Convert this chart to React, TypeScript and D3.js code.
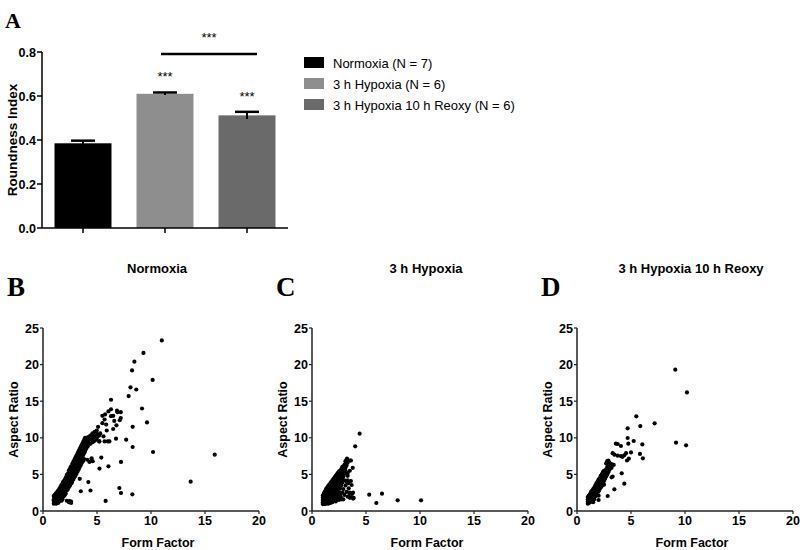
import React from "react";
import * as d3 from "d3";

// ---------- Panel A data ----------
const categories = ["Normoxia (N = 7)", "3 h Hypoxia (N = 6)", "3 h Hypoxia 10 h Reoxy (N = 6)"];
const roundnessMeans = [0.385, 0.61, 0.512];
const roundnessSEM = [0.012, 0.006, 0.016];
const barColors = ["#000000", "#8e8e8e", "#6a6a6a"];
const yTicksA = [0, 0.2, 0.4, 0.6, 0.8];

// ---------- Scatter data ----------
const scatterTicksX = [0, 5, 10, 15, 20];
const scatterTicksY = [0, 5, 10, 15, 20, 25];
const panelTitles = ["Normoxia", "3 h Hypoxia", "3 h Hypoxia 10 h Reoxy"];
const panelLetters = ["B", "C", "D"];

// Normoxia: [Form Factor, Aspect Ratio]
const normoxiaPoints: [number, number][] = [
  [11.0, 23.3], [9.3, 21.6], [8.46, 20.4], [8.25, 19.2], [10.15, 17.9], [8.1, 16.9], [8.64, 16.6], [7.93, 15.7],
  [6.3, 15.2], [9.17, 14.0], [9.63, 12.1], [8.3, 11.5], [10.19, 8.06], [8.3, 8.74], [15.9, 7.7], [13.67, 4.0],
  [8.27, 2.28], [7.22, 2.46], [7.07, 3.14], [5.8, 1.37], [7.22, 6.7], [7.7, 9.75], [6.76, 9.88],
  [6.06, 13.6], [6.9, 13.5], [7.2, 13.5], [5.5, 13.0], [6.3, 12.95], [7.2, 12.7], [7.1, 12.4], [5.7, 12.5],
  [6.6, 12.3], [6.8, 11.7], [5.85, 11.8], [5.1, 11.5], [5.5, 12.0], [4.6, 10.45], [4.8, 10.1], [4.9, 9.8],
  [5.2, 9.5], [5.7, 9.5], [6.0, 9.5], [6.15, 9.5], [5.4, 7.3], [4.6, 6.8], [4.3, 6.7], [6.06, 6.1],
  [5.23, 5.8], [3.4, 4.4], [4.2, 3.95], [3.5, 2.7], [4.4, 2.8], [2.46, 1.36], [2.6, 1.1], [5.9, 11.0],
  [6.5, 11.2], [5.3, 10.6], [5.6, 10.2], [6.3, 13.9], [6.85, 13.7], [5.75, 13.2], [6.5, 13.0], [4.5, 7.2],
  [1.0, 1.0], [1.02, 1.25], [0.98, 1.5], [1.05, 1.8], [1.0, 2.05],
  [1.12, 1.1], [1.1, 1.45], [1.14, 1.7], [1.08, 2.2],
  [1.22, 1.0], [1.2, 1.35], [1.25, 1.6], [1.18, 1.95], [1.2, 2.4],
  [1.3, 1.2], [1.33, 1.5], [1.28, 2.0], [1.32, 2.6],
  [1.4, 1.1], [1.42, 1.4], [1.38, 1.85], [1.45, 2.2], [1.4, 2.8],
  [1.52, 1.3], [1.5, 1.75], [1.55, 2.1], [1.48, 2.55], [1.5, 3.0],
  [1.6, 1.5], [1.63, 2.0], [1.58, 2.45], [1.65, 2.8], [1.6, 3.25],
  [1.72, 1.4], [1.7, 1.95], [1.75, 2.3], [1.68, 2.7], [1.73, 3.1], [1.7, 3.55],
  [1.8, 1.6], [1.83, 2.25], [1.78, 2.6], [1.85, 3.0], [1.8, 3.45], [1.82, 3.8],
  [1.92, 2.0], [1.9, 2.55], [1.95, 2.9], [1.88, 3.3], [1.93, 3.75], [1.9, 4.05],
  [2.0, 2.15], [2.04, 2.7], [1.98, 3.15], [2.05, 3.5], [2.0, 3.95], [2.03, 4.3],
  [2.1, 2.4], [2.13, 3.05], [2.08, 3.4], [2.15, 3.85], [2.1, 4.2], [2.12, 4.6],
  [2.2, 1.4], [2.22, 2.85], [2.18, 3.3], [2.25, 3.7], [2.2, 4.15], [2.23, 4.5], [2.2, 4.95],
  [2.3, 3.0], [2.33, 3.65], [2.28, 4.0], [2.35, 4.45], [2.3, 4.8], [2.32, 5.15],
  [2.4, 1.2], [2.43, 3.3], [2.38, 3.85], [2.45, 4.3], [2.4, 4.75], [2.42, 5.2], [2.4, 5.55],
  [2.5, 3.5], [2.53, 4.15], [2.48, 4.6], [2.55, 5.05], [2.5, 5.4], [2.52, 5.85],
  [2.6, 1.3], [2.63, 3.8], [2.58, 4.4], [2.65, 4.95], [2.6, 5.3], [2.62, 5.75], [2.6, 6.1],
  [2.7, 4.0], [2.73, 4.75], [2.68, 5.2], [2.75, 5.65], [2.7, 6.0], [2.72, 6.45],
  [2.8, 4.3], [2.83, 5.05], [2.78, 5.5], [2.85, 5.95], [2.8, 6.3], [2.82, 6.75],
  [2.9, 4.6], [2.93, 5.35], [2.88, 5.8], [2.95, 6.25], [2.9, 6.6], [2.92, 7.05],
  [3.0, 4.8], [3.03, 5.55], [2.98, 6.0], [3.05, 6.55], [3.0, 6.9], [3.02, 7.35],
  [3.1, 5.1], [3.13, 5.85], [3.08, 6.3], [3.15, 6.85], [3.1, 7.2], [3.12, 7.65],
  [3.2, 5.4], [3.23, 6.15], [3.18, 6.6], [3.25, 7.05], [3.2, 7.5], [3.22, 7.95],
  [3.3, 5.7], [3.33, 6.45], [3.28, 6.9], [3.35, 7.35], [3.3, 7.8], [3.32, 8.25],
  [3.4, 6.0], [3.43, 6.75], [3.38, 7.2], [3.45, 7.65], [3.4, 8.1], [3.42, 8.55],
  [3.5, 6.3], [3.53, 7.05], [3.48, 7.5], [3.55, 8.05], [3.5, 8.4], [3.52, 8.85],
  [3.6, 6.6], [3.63, 7.35], [3.58, 7.8], [3.65, 8.35], [3.6, 8.7], [3.62, 9.15],
  [3.7, 6.8], [3.73, 7.65], [3.68, 8.1], [3.75, 8.65], [3.7, 9.0], [3.72, 9.45],
  [3.8, 7.1], [3.83, 7.95], [3.78, 8.4], [3.85, 8.95], [3.8, 9.3], [3.82, 9.75],
  [3.9, 8.2], [3.93, 8.75], [3.88, 9.2], [3.95, 9.65], [3.9, 10.0],
  [4.0, 8.5], [4.03, 9.05], [3.98, 9.5], [4.05, 9.95],
  [4.1, 7.0], [4.13, 8.8], [4.08, 9.35], [4.15, 9.8],
  [4.2, 9.0], [4.23, 9.6], [4.18, 10.1],
  [4.4, 9.2], [4.43, 9.8], [4.38, 10.3],
  [4.6, 9.4], [4.63, 10.0], [4.58, 10.6],
  [4.8, 9.6], [4.83, 10.2], [4.78, 10.8],
  [5.0, 10.0], [5.03, 10.5], [4.98, 11.0],
  [5.2, 10.3], [5.22, 9.5],
];

const hypoxiaPoints: [number, number][] = [
  [4.41, 10.56], [4.0, 8.83], [3.55, 6.9], [3.24, 7.15], [3.77, 5.9], [5.3, 2.23], [5.96, 1.09], [6.48, 2.37],
  [7.93, 1.46], [10.1, 1.46], [3.86, 1.78], [3.06, 5.4], [2.9, 4.7], [3.3, 4.2], [3.36, 3.8], [3.67, 3.55],
  [3.8, 2.5], [3.5, 2.4], [3.3, 1.95], [2.74, 1.6], [2.43, 1.95],
  [1.0, 0.95], [1.0, 1.2], [1.0, 1.5], [1.0, 1.8], [1.0, 2.1],
  [1.1, 1.0], [1.1, 1.3], [1.1, 1.6], [1.1, 1.9], [1.1, 2.2], [1.1, 2.4],
  [1.2, 0.95], [1.2, 1.2], [1.2, 1.5], [1.2, 1.8], [1.2, 2.1], [1.2, 2.4], [1.2, 2.7],
  [1.3, 1.0], [1.3, 1.3], [1.3, 1.6], [1.3, 1.9], [1.3, 2.2], [1.3, 2.5], [1.3, 2.8], [1.3, 3.0],
  [1.4, 1.1], [1.4, 1.4], [1.4, 1.7], [1.4, 2.0], [1.4, 2.3], [1.4, 2.6], [1.4, 2.9], [1.4, 3.2],
  [1.5, 1.0], [1.5, 1.3], [1.5, 1.6], [1.5, 1.9], [1.5, 2.2], [1.5, 2.5], [1.5, 2.8], [1.5, 3.1], [1.5, 3.4],
  [1.6, 1.2], [1.6, 1.5], [1.6, 1.8], [1.6, 2.1], [1.6, 2.4], [1.6, 2.7], [1.6, 3.0], [1.6, 3.3], [1.6, 3.6],
  [1.7, 1.1], [1.7, 1.4], [1.7, 1.7], [1.7, 2.0], [1.7, 2.3], [1.7, 2.6], [1.7, 2.9], [1.7, 3.2], [1.7, 3.5], [1.7, 3.8],
  [1.8, 1.3], [1.8, 1.6], [1.8, 1.9], [1.8, 2.2], [1.8, 2.5], [1.8, 2.8], [1.8, 3.1], [1.8, 3.4], [1.8, 3.7], [1.8, 4.0],
  [1.9, 1.2], [1.9, 1.5], [1.9, 1.8], [1.9, 2.1], [1.9, 2.4], [1.9, 2.7], [1.9, 3.0], [1.9, 3.3], [1.9, 3.6], [1.9, 3.9], [1.9, 4.2],
  [2.0, 1.4], [2.0, 1.7], [2.0, 2.0], [2.0, 2.3], [2.0, 2.6], [2.0, 2.9], [2.0, 3.2], [2.0, 3.5], [2.0, 3.8], [2.0, 4.1], [2.0, 4.4],
  [2.1, 1.6], [2.1, 2.2], [2.1, 2.8], [2.1, 3.1], [2.1, 3.4], [2.1, 3.7], [2.1, 4.0], [2.1, 4.3], [2.1, 4.6],
  [2.2, 1.3], [2.2, 1.9], [2.2, 2.5], [2.2, 3.0], [2.2, 3.3], [2.2, 3.6], [2.2, 3.9], [2.2, 4.2], [2.2, 4.5], [2.2, 4.8],
  [2.3, 1.7], [2.3, 2.4], [2.3, 3.2], [2.3, 3.5], [2.3, 3.8], [2.3, 4.1], [2.3, 4.4], [2.3, 4.7], [2.3, 5.0],
  [2.4, 2.0], [2.4, 2.9], [2.4, 3.4], [2.4, 3.7], [2.4, 4.0], [2.4, 4.3], [2.4, 4.6], [2.4, 4.9], [2.4, 5.2],
  [2.5, 1.5], [2.5, 2.6], [2.5, 3.6], [2.5, 4.0], [2.5, 4.4], [2.5, 4.8], [2.5, 5.1], [2.5, 5.4],
  [2.6, 2.2], [2.6, 3.1], [2.6, 3.9], [2.6, 4.3], [2.6, 4.7], [2.6, 5.1], [2.6, 5.5],
  [2.7, 1.8], [2.7, 3.5], [2.7, 4.2], [2.7, 4.6], [2.7, 5.0], [2.7, 5.4], [2.7, 5.7],
  [2.8, 2.5], [2.8, 3.9], [2.8, 4.5], [2.8, 5.0], [2.8, 5.4], [2.8, 5.8], [2.8, 6.0],
  [2.9, 1.6], [2.9, 3.0], [2.9, 4.8], [2.9, 5.3], [2.9, 5.7], [2.9, 6.1],
  [3.0, 2.2], [3.0, 4.2], [3.0, 5.1], [3.0, 5.6], [3.0, 6.0], [3.0, 6.3],
  [3.1, 3.5], [3.1, 5.5], [3.1, 5.9], [3.1, 6.4], [3.1, 6.8],
  [3.2, 2.6], [3.2, 4.0], [3.2, 6.2], [3.2, 6.7], [3.2, 7.0],
  [3.3, 4.8], [3.3, 5.2], [3.3, 6.6],
  [3.4, 2.0], [3.4, 3.1], [3.4, 6.9],
  [3.5, 1.8], [3.5, 2.5], [3.5, 5.5],
  [3.6, 6.9], [3.6, 4.1],
  [3.7, 2.4], [3.7, 1.9],
  [3.8, 1.7],
];

const reoxyPoints: [number, number][] = [
  [9.1, 19.3], [10.18, 16.2], [5.49, 12.93], [7.19, 11.98], [5.86, 11.6], [4.69, 11.3], [9.17, 9.33], [10.1, 8.97],
  [3.77, 9.15], [4.07, 8.88], [3.6, 9.2], [4.69, 9.97], [5.25, 9.56], [4.75, 9.2], [6.05, 9.1], [4.54, 7.9],
  [5.0, 8.0], [5.83, 7.8], [6.1, 7.2], [4.63, 6.9], [4.8, 7.15], [3.46, 7.7], [3.77, 7.56], [4.07, 7.5],
  [4.38, 7.6], [4.14, 5.15], [4.38, 3.73], [3.46, 2.96], [2.84, 2.05], [3.3, 4.7], [3.3, 7.9], [4.2, 7.4],
  [1.0, 1.0], [1.0, 1.3], [1.0, 1.6], [1.0, 1.9],
  [1.1, 1.1], [1.1, 1.5], [1.1, 1.8], [1.1, 2.1],
  [1.2, 1.2], [1.2, 1.6], [1.2, 2.0], [1.2, 2.3],
  [1.3, 1.3], [1.3, 1.8], [1.3, 2.2], [1.3, 2.6],
  [1.4, 1.5], [1.4, 2.0], [1.4, 2.4], [1.4, 2.8],
  [1.5, 1.2], [1.5, 1.7], [1.5, 2.2], [1.5, 2.6], [1.5, 3.0],
  [1.6, 1.6], [1.6, 2.4], [1.6, 2.8], [1.6, 3.2],
  [1.7, 2.0], [1.7, 2.6], [1.7, 3.0], [1.7, 3.5],
  [1.8, 2.2], [1.8, 2.8], [1.8, 3.3], [1.8, 3.8],
  [1.9, 2.5], [1.9, 3.0], [1.9, 3.5], [1.9, 4.0],
  [2.0, 1.5], [2.0, 2.1], [2.0, 2.7], [2.0, 3.2], [2.0, 3.8], [2.0, 4.3],
  [2.1, 3.0], [2.1, 3.5], [2.1, 4.0], [2.1, 4.5],
  [2.2, 3.2], [2.2, 3.7], [2.2, 4.2], [2.2, 4.8],
  [2.3, 3.4], [2.3, 4.0], [2.3, 4.5], [2.3, 5.0],
  [2.4, 3.8], [2.4, 4.3], [2.4, 4.8], [2.4, 5.3],
  [2.5, 3.6], [2.5, 4.1], [2.5, 4.6], [2.5, 5.1], [2.5, 5.5],
  [2.6, 4.4], [2.6, 4.9], [2.6, 5.4],
  [2.7, 4.7], [2.7, 5.2], [2.7, 5.7], [2.7, 6.5],
  [2.8, 5.0], [2.8, 5.5], [2.8, 6.0], [2.8, 6.8],
  [2.9, 5.3], [2.9, 5.8], [2.9, 6.3], [2.9, 6.9],
  [3.0, 5.6], [3.0, 6.1], [3.0, 6.6],
  [3.2, 4.6], [3.2, 5.9], [3.2, 6.4],
  [3.4, 6.3],
];

const scatterSets = [normoxiaPoints, hypoxiaPoints, reoxyPoints];
const panelX0 = [43, 312, 577];

const SANS = "'Liberation Sans', Arial, Helvetica, sans-serif";
const SERIF = "'Liberation Serif', 'Times New Roman', serif";

function ScatterPanel({ idx }: { idx: number }) {
  const x0 = panelX0[idx];
  const x = d3.scaleLinear().domain([0, 20]).range([x0, x0 + 216]);
  const y = d3.scaleLinear().domain([0, 25]).range([511, 328]);
  const pts = scatterSets[idx];
  return (
    <g>
      <text x={x0 + 114} y={273} textAnchor="middle" fontFamily={SANS} fontWeight="bold" fontSize={13}>
        {panelTitles[idx]}
      </text>
      <text x={x0 - 36} y={296} fontFamily={SERIF} fontWeight="bold" fontSize={27}>
        {panelLetters[idx]}
      </text>
      {pts.map((p, i) => (
        <circle key={i} cx={x(p[0])} cy={y(p[1])} r={2.1} fill="#000" />
      ))}
      <line x1={x0} x2={x0} y1={y(25)} y2={y(0)} stroke="#222" strokeWidth={1.5} />
      <line x1={x0} x2={x(20)} y1={y(0)} y2={y(0)} stroke="#222" strokeWidth={1.5} />
      {scatterTicksY.map((t) => (
        <g key={"y" + t}>
          <line x1={x0 - 3} x2={x0} y1={y(t)} y2={y(t)} stroke="#222" strokeWidth={1.2} />
          <text x={x0 - 4} y={y(t) + 4.5} textAnchor="end" fontFamily={SANS} fontWeight="bold" fontSize={12.5}>
            {t}
          </text>
        </g>
      ))}
      {scatterTicksX.map((t) => (
        <g key={"x" + t}>
          <line x1={x(t)} x2={x(t)} y1={y(0)} y2={y(0) + 3} stroke="#222" strokeWidth={1.2} />
          <text x={x(t)} y={525} textAnchor="middle" fontFamily={SANS} fontWeight="bold" fontSize={12.5}>
            {t}
          </text>
        </g>
      ))}
      <text x={x0 + 115} y={547} textAnchor="middle" fontFamily={SANS} fontWeight="bold" fontSize={12.5}>
        Form Factor
      </text>
      <text
        transform={`translate(${x0 - 25},${(y(0) + y(25)) / 2}) rotate(-90)`}
        textAnchor="middle"
        fontFamily={SANS}
        fontWeight="bold"
        fontSize={12.5}
      >
        Aspect Ratio
      </text>
    </g>
  );
}

export default function App() {
  const yA = d3.scaleLinear().domain([0, 0.8]).range([228, 52]);
  const xA = d3.scaleBand<string>().domain(categories).range([42, 288]).paddingInner(0.305).paddingOuter(0.1525);
  const bw = xA.bandwidth();
  const cx = (c: string) => (xA(c) as number) + bw / 2;

  return (
    <svg width={800} height={550} style={{ position: "absolute", left: 0, top: 0, background: "#fff" }}>
      <rect width={800} height={550} fill="#fff" />
      {/* Panel A */}
      <text x={5} y={28} fontFamily={SERIF} fontWeight="bold" fontSize={22}>A</text>
      {categories.map((c, i) => (
        <rect key={c} x={xA(c)} y={yA(roundnessMeans[i])} width={bw} height={yA(0) - yA(roundnessMeans[i])} fill={barColors[i]} />
      ))}
      {categories.map((c, i) => {
        const top = yA(roundnessMeans[i] + roundnessSEM[i]);
        const bot = yA(roundnessMeans[i] - roundnessSEM[i]);
        return (
          <g key={"e" + c}>
            <line x1={cx(c)} x2={cx(c)} y1={top} y2={bot} stroke="#000" strokeWidth={2} />
            <line x1={cx(c) - 12} x2={cx(c) + 12} y1={top} y2={top} stroke="#000" strokeWidth={2.5} />
          </g>
        );
      })}
      <text x={cx(categories[1])} y={yA(roundnessMeans[1] + roundnessSEM[1]) - 11} textAnchor="middle" fontFamily={SANS} fontSize={13}>***</text>
      <text x={cx(categories[2])} y={yA(roundnessMeans[2] + roundnessSEM[2]) - 11} textAnchor="middle" fontFamily={SANS} fontSize={13}>***</text>
      <line x1={cx(categories[1]) - 4} x2={cx(categories[2]) + 10} y1={54} y2={54} stroke="#000" strokeWidth={2.5} />
      <text x={209} y={42} textAnchor="middle" fontFamily={SANS} fontSize={13}>***</text>
      <line x1={42} x2={42} y1={yA(0.8)} y2={yA(0)} stroke="#000" strokeWidth={1.5} />
      <line x1={42} x2={288} y1={yA(0)} y2={yA(0)} stroke="#000" strokeWidth={1.5} />
      {yTicksA.map((t) => (
        <g key={"ta" + t}>
          <line x1={37} x2={42} y1={yA(t)} y2={yA(t)} stroke="#000" strokeWidth={1.5} />
          <text x={36} y={yA(t) + 4.5} textAnchor="end" fontFamily={SANS} fontWeight="bold" fontSize={12.5}>
            {t.toFixed(1)}
          </text>
        </g>
      ))}
      {categories.map((c) => (
        <line key={"xt" + c} x1={cx(c)} x2={cx(c)} y1={yA(0)} y2={yA(0) + 5} stroke="#000" strokeWidth={1.5} />
      ))}
      <text transform={`translate(17,${(yA(0) + yA(0.8)) / 2}) rotate(-90)`} textAnchor="middle" fontFamily={SANS} fontWeight="bold" fontSize={13.5}>
        Roundness Index
      </text>
      {/* Legend */}
      {categories.map((c, i) => (
        <g key={"lg" + c}>
          <rect x={304} y={57 + i * 21} width={20} height={11} fill={barColors[i]} />
          <text x={333} y={67.5 + i * 21} fontFamily={SANS} fontSize={13}>
            {c}
          </text>
        </g>
      ))}
      {/* Panels B, C, D */}
      {[0, 1, 2].map((i) => (
        <ScatterPanel key={i} idx={i} />
      ))}
    </svg>
  );
}
